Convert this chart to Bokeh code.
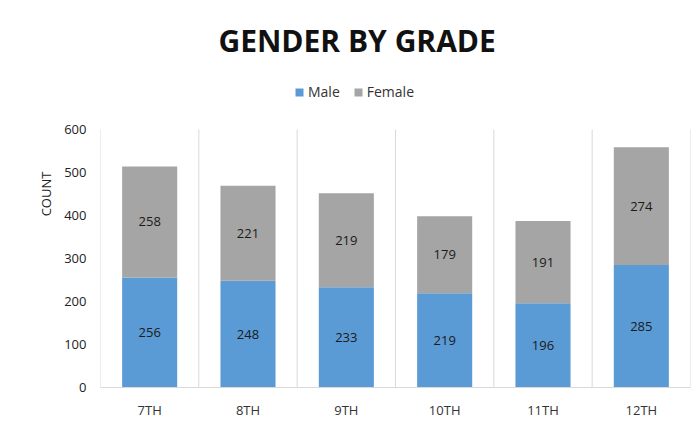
from bokeh.plotting import figure
from bokeh.models import (ColumnDataSource, Legend, LegendItem, FixedTicker,
                          LabelSet, Label, Range1d)
from bokeh.embed import file_html
from bokeh.resources import INLINE
from bokeh.core.properties import value

grades = ["7TH", "8TH", "9TH", "10TH", "11TH", "12TH"]
male = [256, 248, 233, 219, 196, 285]
female = [258, 221, 219, 179, 191, 274]
y_ticks = [0, 100, 200, 300, 400, 500, 600]

FONT = "Open Sans"
BLUE = "#5B9BD5"
GRAY = "#A5A5A5"
SEP = "#d9d9d9"

# geometry: frame spans figure top to the axis; value 600 sits 259px above 0
FRAME_H = 390
PX_600 = 260
y_end = 600 * FRAME_H / PX_600

male_mid = [m / 2 for m in male]
female_mid = [m + f / 2 for m, f in zip(male, female)]
src = ColumnDataSource(dict(grade=grades, male=male, female=female,
                            male_mid=male_mid, female_mid=female_mid,
                            male_lbl=[str(v) for v in male],
                            female_lbl=[str(v) for v in female]))

p = figure(x_range=grades, y_range=Range1d(0, y_end), width=691, height=421,
           output_backend="svg", toolbar_location=None,
           min_border_left=100, min_border_right=1, min_border_top=0, min_border_bottom=31)
p.x_range.range_padding = 0
p.outline_line_color = None

# category separators from 0 to 600
n = len(grades)
p.segment(x0=list(range(n + 1)), y0=[0] * (n + 1), x1=list(range(n + 1)),
          y1=[y_ticks[-1]] * (n + 1), line_color=SEP, line_width=1)

r = p.vbar_stack(["male", "female"], x="grade", width=0.56, color=[BLUE, GRAY],
                 line_color=None, source=src)

for col, mid in (("male_lbl", "male_mid"), ("female_lbl", "female_mid")):
    p.add_layout(LabelSet(x="grade", y=mid, text=col, source=src,
                          text_align="center", text_baseline="middle",
                          text_font=value(FONT), text_font_size="13px",
                          text_color="#1a1a1a"))

title = Label(x=2.61, y=806, text="GENDER BY GRADE", text_align="center",
              text_baseline="middle", text_font=FONT, text_font_size="30px",
              text_font_style="bold", text_color="#111111")
p.add_layout(title)

legend = Legend(items=[LegendItem(label="Male", renderers=[r[0]]),
                       LegendItem(label="Female", renderers=[r[1]])],
                orientation="horizontal", location=(194, 286),
                label_text_font=FONT, label_text_font_size="14px",
                label_text_color="#333333", glyph_width=10, glyph_height=10,
                spacing=13, label_standoff=4, border_line_color=None,
                background_fill_alpha=0, margin=0, padding=4)
p.add_layout(legend)

p.xgrid.grid_line_color = None
p.ygrid.grid_line_color = None

p.yaxis.ticker = FixedTicker(ticks=y_ticks)
p.yaxis.axis_label = "COUNT"
p.yaxis.axis_label_text_font = FONT
p.yaxis.axis_label_text_font_style = "normal"
p.yaxis.axis_label_text_font_size = "13px"
p.yaxis.axis_label_text_color = "#222222"
p.yaxis.axis_label_standoff = 6
p.yaxis.axis_line_color = None
p.yaxis.major_tick_line_color = None
p.yaxis.minor_tick_line_color = None
p.yaxis.major_tick_out = 0
p.yaxis.major_tick_in = 0
p.yaxis.major_label_standoff = 14
p.yaxis.major_label_text_font = FONT
p.yaxis.major_label_text_font_size = "13px"
p.yaxis.major_label_text_color = "#222222"

p.xaxis.axis_line_color = SEP
p.xaxis.major_tick_line_color = None
p.xaxis.minor_tick_line_color = None
p.xaxis.major_tick_out = 0
p.xaxis.major_tick_in = 0
p.xaxis.major_label_standoff = 13
p.xaxis.major_label_text_font = FONT
p.xaxis.major_label_text_font_size = "13px"
p.xaxis.major_label_text_color = "#333333"

open("out.html", "w").write(file_html(p, INLINE))
